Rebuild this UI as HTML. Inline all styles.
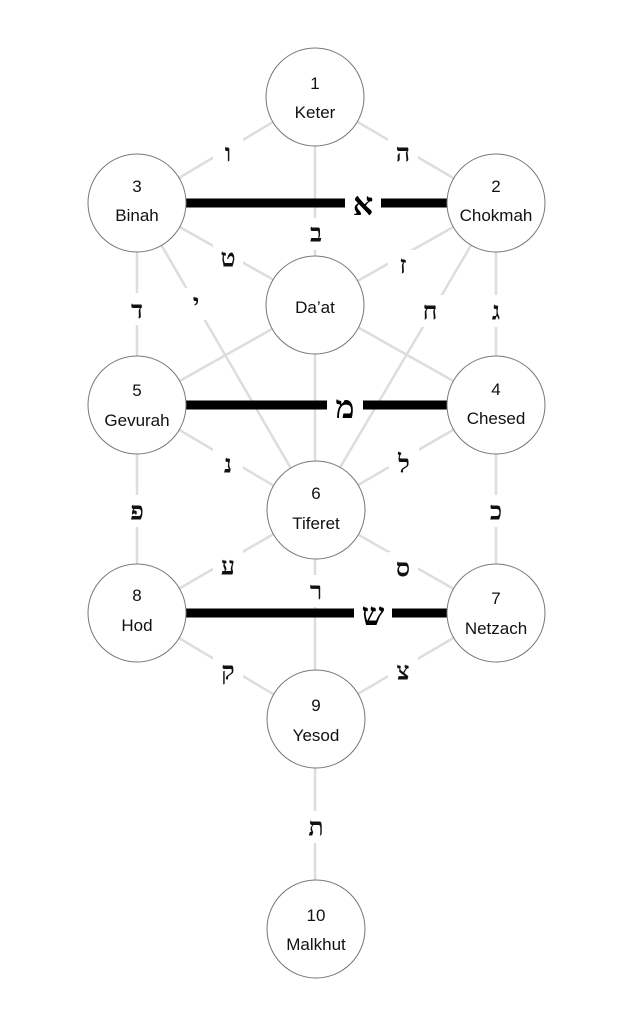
<!DOCTYPE html>
<html><head><meta charset="utf-8"><style>
html,body{margin:0;padding:0;background:#fff;}
svg{display:block}
.n{font-family:"Liberation Sans","DejaVu Sans",sans-serif;font-size:17px;fill:#111;text-anchor:middle}
.h{font-family:"DejaVu Serif","Liberation Serif",serif;font-size:25px;font-weight:bold;fill:#111;text-anchor:middle;dominant-baseline:central}
.hb{font-family:"DejaVu Serif","Liberation Serif",serif;font-size:32px;font-weight:bold;fill:#000;text-anchor:middle;dominant-baseline:central}
</style></head><body>
<svg width="633" height="1024" viewBox="0 0 633 1024">
<g stroke="#ddd" stroke-width="2.5">
<line x1="315" y1="97" x2="137" y2="203"/>
<line x1="315" y1="97" x2="496" y2="203"/>
<line x1="315" y1="97" x2="315" y2="930"/>
<line x1="137" y1="203" x2="137" y2="613"/>
<line x1="496" y1="203" x2="496" y2="613"/>
<line x1="137" y1="203" x2="496" y2="405"/>
<line x1="496" y1="203" x2="137" y2="405"/>
<line x1="137" y1="203" x2="315" y2="510"/>
<line x1="496" y1="203" x2="315" y2="510"/>
<line x1="137" y1="405" x2="315" y2="510"/>
<line x1="496" y1="405" x2="315" y2="510"/>
<line x1="137" y1="613" x2="315" y2="510"/>
<line x1="496" y1="613" x2="315" y2="510"/>
<line x1="137" y1="613" x2="315" y2="719"/>
<line x1="496" y1="613" x2="315" y2="719"/>
</g>
<g stroke="#000" stroke-width="9">
<line x1="137" y1="203" x2="496" y2="203"/>
<line x1="137" y1="405" x2="496" y2="405"/>
<line x1="137" y1="613" x2="496" y2="613"/>
</g>
<g fill="#fff">
<rect x="345" y="190" width="36" height="28"/>
<rect x="327" y="392" width="36" height="28"/>
<rect x="354" y="600" width="38" height="28"/>
<rect x="213" y="138" width="30" height="32"/><rect x="388" y="138" width="30" height="32"/>
<rect x="301" y="218" width="30" height="32"/><rect x="213" y="242" width="30" height="32"/><rect x="388" y="250" width="30" height="32"/>
<rect x="122" y="293" width="30" height="32"/><rect x="184" y="288" width="24" height="32"/><rect x="415" y="295" width="30" height="32"/><rect x="481" y="295" width="30" height="32"/>
<rect x="213" y="448" width="30" height="32"/><rect x="389" y="448" width="30" height="32"/>
<rect x="122" y="495" width="30" height="32"/><rect x="481" y="495" width="30" height="32"/>
<rect x="213" y="550" width="30" height="32"/><rect x="388" y="552" width="30" height="32"/><rect x="301" y="575" width="30" height="32"/>
<rect x="213" y="655" width="30" height="32"/><rect x="388" y="655" width="30" height="32"/>
<rect x="301" y="811" width="30" height="32"/>
</g>
<g fill="#fff" stroke="#777" stroke-width="1">
<circle cx="315" cy="97" r="49"/>
<circle cx="137" cy="203" r="49"/>
<circle cx="496" cy="203" r="49"/>
<circle cx="315" cy="305" r="49"/>
<circle cx="137" cy="405" r="49"/>
<circle cx="496" cy="405" r="49"/>
<circle cx="316" cy="510" r="49"/>
<circle cx="137" cy="613" r="49"/>
<circle cx="496" cy="613" r="49"/>
<circle cx="316" cy="719" r="49"/>
<circle cx="316" cy="929" r="49"/>
</g>
<text class="n" x="315" y="89">1</text><text class="n" x="315" y="118">Keter</text>
<text class="n" x="137" y="192">3</text><text class="n" x="137" y="221">Binah</text>
<text class="n" x="496" y="192">2</text><text class="n" x="496" y="221">Chokmah</text>
<text class="n" x="315" y="313">Da’at</text>
<text class="n" x="137" y="396">5</text><text class="n" x="137" y="426">Gevurah</text>
<text class="n" x="496" y="395">4</text><text class="n" x="496" y="424">Chesed</text>
<text class="n" x="316" y="499">6</text><text class="n" x="316" y="529">Tiferet</text>
<text class="n" x="137" y="601">8</text><text class="n" x="137" y="631">Hod</text>
<text class="n" x="496" y="604">7</text><text class="n" x="496" y="634">Netzach</text>
<text class="n" x="316" y="711">9</text><text class="n" x="316" y="741">Yesod</text>
<text class="n" x="316" y="921">10</text><text class="n" x="316" y="950">Malkhut</text>
<text class="hb" x="363" y="204">א</text>
<text class="hb" x="345" y="407">מ</text>
<text class="hb" x="373" y="614">ש</text>
<text class="h" x="228" y="153">ו</text><text class="h" x="403" y="153">ה</text>
<text class="h" x="316" y="233">ב</text><text class="h" x="228" y="258">ט</text><text class="h" x="403" y="265">ז</text>
<text class="h" x="137" y="310">ד</text><text class="h" x="196" y="303">י</text><text class="h" x="430" y="311">ח</text><text class="h" x="496" y="311">ג</text>
<text class="h" x="228" y="464">נ</text><text class="h" x="404" y="464">ל</text>
<text class="h" x="137" y="511">פ</text><text class="h" x="496" y="511">כ</text>
<text class="h" x="228" y="566">ע</text><text class="h" x="403" y="568">ס</text><text class="h" x="316" y="591">ר</text>
<text class="h" x="228" y="671">ק</text><text class="h" x="403" y="671">צ</text>
<text class="h" x="316" y="827">ת</text>
</svg>
</body></html>
